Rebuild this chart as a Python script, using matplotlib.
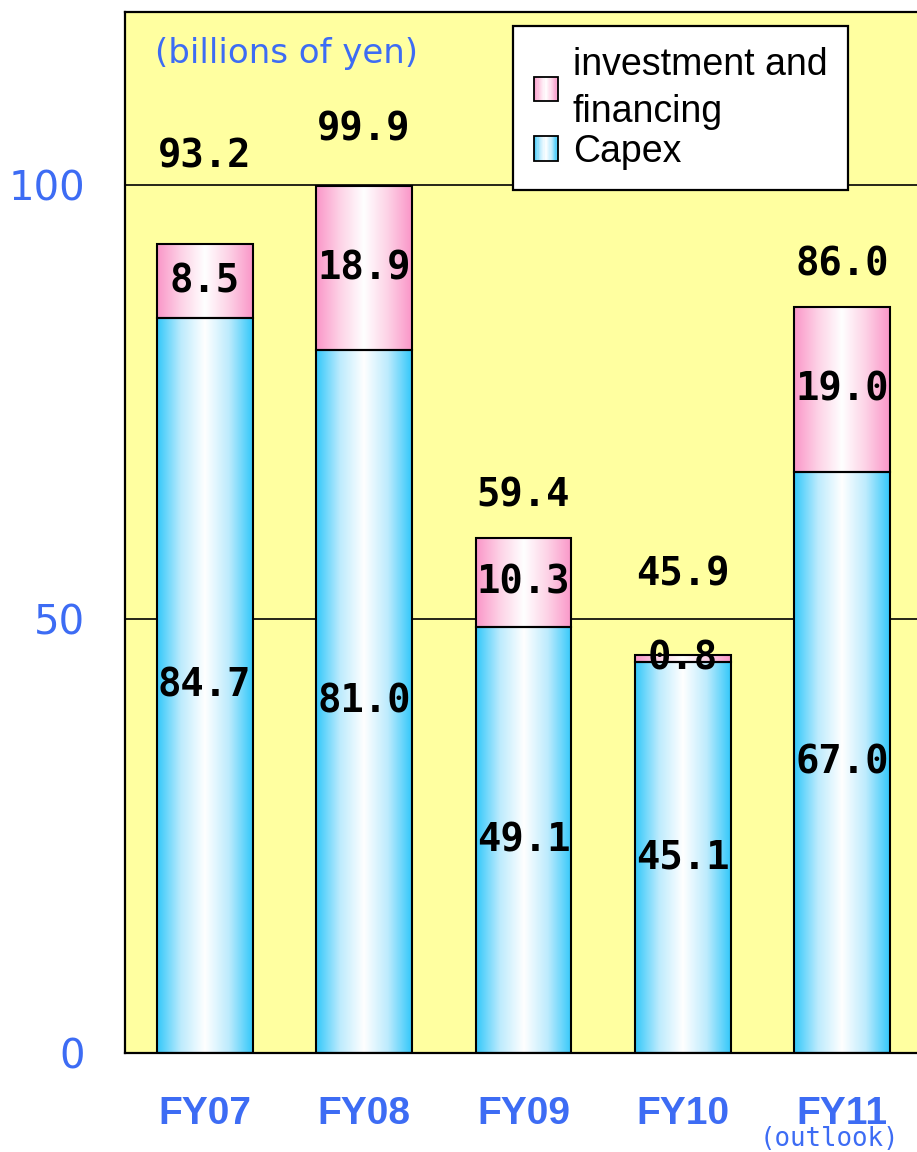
import numpy as np
import matplotlib
matplotlib.use('Agg')
import matplotlib.pyplot as plt
from matplotlib.colors import LinearSegmentedColormap
from matplotlib.legend_handler import HandlerBase
from matplotlib.patches import Rectangle

# data (billions of yen)
years = ['FY07', 'FY08', 'FY09', 'FY10', 'FY11']
capex = [84.7, 81.0, 49.1, 45.1, 67.0]
invest = [8.5, 18.9, 10.3, 0.8, 19.0]
totals = [93.2, 99.9, 59.4, 45.9, 86.0]
series_names = ['investment and\nfinancing', 'Capex']

# how far above the bar top each total label sits (points) -- as in the original
total_pad = [50, 27, 17, 44, 17]

blue = '#3D6CF4'
cyan_cmap = LinearSegmentedColormap.from_list('cy', ['#33C8FA', '#BDEBFD', 'white', '#BDEBFD', '#33C8FA'])
pink_cmap = LinearSegmentedColormap.from_list('pk', ['#FA96C8', '#FDD2E6', 'white', '#FDD2E6', '#FA96C8'])

fig = plt.figure(figsize=(9.17, 11.52), dpi=100)
ax = fig.add_axes([125 / 917, 1 - 1053 / 1152, 797 / 917, 1041 / 1152])
ax.set_facecolor('#FFFFA0')

x = np.arange(len(years))
w = 0.6
bars_cap = ax.bar(x, capex, w, facecolor='none', edgecolor='black', linewidth=1.5, zorder=3)
bars_inv = ax.bar(x, invest, w, bottom=capex, facecolor='none', edgecolor='black', linewidth=1.5, zorder=3)

# horizontal gradient fill clipped to each bar
grad = np.linspace(0, 1, 256).reshape(1, -1)
for bars, cmap in [(bars_cap, cyan_cmap), (bars_inv, pink_cmap)]:
    for b in bars:
        x0, y0 = b.get_x(), b.get_y()
        im = ax.imshow(grad, cmap=cmap, aspect='auto', zorder=2.5,
                       extent=[x0, x0 + b.get_width(), y0, y0 + b.get_height()])
        im.set_clip_path(b)
ax.set_xlim(-0.5, len(years) - 0.5)
ax.set_ylim(0, 120)

# grid lines
for yv in [50, 100]:
    ax.axhline(yv, color='black', linewidth=1.2, zorder=1)

for s in ['left', 'top', 'bottom']:
    ax.spines[s].set_linewidth(1.6)
ax.spines['right'].set_visible(False)

ax.set_yticks([0, 50, 100])
ax.set_yticklabels(['0', '50', '100'], fontsize=29, color=blue, family='DejaVu Sans')
ax.set_xticks(x)
ax.set_xticklabels(years, fontsize=28, color=blue, fontweight='bold',
                   family=['Liberation Sans Narrow', 'Liberation Sans'])
ax.tick_params(axis='y', length=0, pad=29)
ax.tick_params(axis='x', length=0, pad=31)

vfont = dict(family='DejaVu Sans Mono', fontsize=28, fontweight='bold', color='black', zorder=5)
for i in range(len(years)):
    ax.text(x[i], capex[i] / 2, f'{capex[i]:.1f}', ha='center', va='center', **vfont)
    ax.text(x[i], capex[i] + invest[i] / 2, f'{invest[i]:.1f}', ha='center', va='center', **vfont)
    ax.annotate(f'{totals[i]:.1f}', (x[i], capex[i] + invest[i]), xytext=(0, total_pad[i]),
                textcoords='offset points', ha='center', va='bottom', **vfont)

ax.annotate('(outlook)', (x[-1], -0.0826), xycoords=ax.get_xaxis_transform(), xytext=(-9, 0),
            textcoords='offset points', ha='center', va='center',
            family='DejaVu Sans Mono', fontsize=18.5, color=blue)
ax.text(0.038, 0.96, '(billions of yen)', transform=ax.transAxes, ha='left', va='center',
        family='DejaVu Sans', fontsize=24.5, color=blue)


class GradientHandler(HandlerBase):
    def __init__(self, cmap):
        super().__init__()
        self.cmap = cmap

    def create_artists(self, legend, orig_handle, xdescent, ydescent, width, height, fontsize, trans):
        n = 20
        sw = width / n
        arts = []
        for k in range(n):
            arts.append(Rectangle((-xdescent + k * sw, -ydescent), sw, height,
                                  facecolor=self.cmap((k + 0.5) / n), edgecolor='none', transform=trans))
        arts.append(Rectangle((-xdescent, -ydescent), width, height, facecolor='none',
                              edgecolor='black', linewidth=1.3, transform=trans))
        return arts


leg = ax.legend([bars_inv, bars_cap], series_names,
                handler_map={bars_inv: GradientHandler(pink_cmap), bars_cap: GradientHandler(cyan_cmap)},
                loc='upper left', bbox_to_anchor=(0.487, 0.9866),
                prop={'family': 'Liberation Sans', 'size': 27},
                handlelength=0.64, handleheight=0.64, handletextpad=0.4, labelspacing=0.1,
                borderpad=0.55, borderaxespad=0, fancybox=False, framealpha=1, edgecolor='black')
leg.get_frame().set_linewidth(1.6)
leg.get_texts()[0].set_linespacing(1.4)
leg.set_zorder(6)

fig.savefig('out.png', dpi=100, facecolor='white')
